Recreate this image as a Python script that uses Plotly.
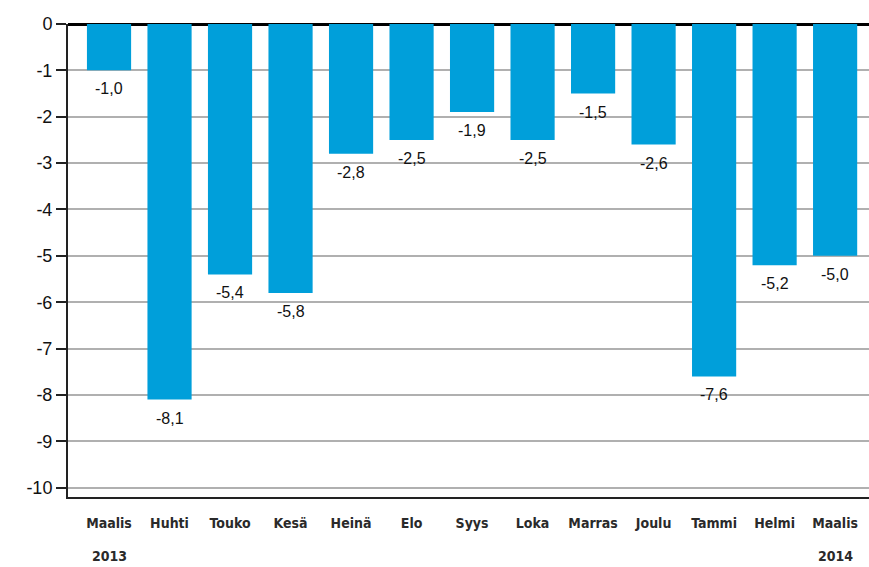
import plotly.graph_objects as go

months = ["Maalis", "Huhti", "Touko", "Kesä", "Heinä", "Elo", "Syys", "Loka",
          "Marras", "Joulu", "Tammi", "Helmi", "Maalis"]
values = [-1.0, -8.1, -5.4, -5.8, -2.8, -2.5, -1.9, -2.5, -1.5, -2.6, -7.6, -5.2, -5.0]
years = ["2013", "2014"]
y_ticks = [0, -1, -2, -3, -4, -5, -6, -7, -8, -9, -10]

xs = list(range(len(months)))
color = "#009fda"
xfont = dict(family="DejaVu Sans Condensed, Tahoma", size=14, color="#2a2a2a", weight="bold")

fig = go.Figure()
fig.add_trace(go.Bar(x=xs, y=values, width=0.73, marker=dict(color=color, line=dict(width=0)),
                     hoverinfo="skip"))

annotations = []
for x, v in zip(xs, values):
    annotations.append(dict(x=x, y=v, xref="x", yref="y", text=f"{v:.1f}".replace(".", ","),
                            showarrow=False, yanchor="top", yshift=-8,
                            font=dict(family="Liberation Sans, Arial", size=16, color="#111")))
annotations.append(dict(x=0, y=0, xref="x", yref="paper", text=years[0], showarrow=False,
                        yanchor="top", yshift=-49, font=xfont))
annotations.append(dict(x=12, y=0, xref="x", yref="paper", text=years[1], showarrow=False,
                        yanchor="top", yshift=-49, font=xfont))

fig.update_layout(
    width=869, height=567,
    margin=dict(l=68, r=0, t=24, b=70),
    plot_bgcolor="white", paper_bgcolor="white",
    showlegend=False,
    annotations=annotations,
)
fig.update_xaxes(range=[-0.678, 12.56], tickmode="array", tickvals=xs, ticktext=months,
                 tickfont=xfont,
                 showgrid=False, zeroline=False, showline=True, linecolor="#222", linewidth=2,
                 ticks="", ticklabelstandoff=12)
fig.update_yaxes(range=[-10.2, 0], tickmode="array", tickvals=y_ticks,
                 ticktext=[str(t) for t in y_ticks],
                 tickfont=dict(family="Liberation Sans, Arial", size=18, color="#111"),
                 showgrid=True, gridcolor="#b0b0b0", gridwidth=1.5,
                 zeroline=True, zerolinecolor="#000", zerolinewidth=3,
                 showline=True, linecolor="#222", linewidth=2,
                 ticks="outside", ticklen=10, tickcolor="#222", tickwidth=1.5)

fig.write_html("out.html", config={"displayModeBar": False},
               post_script="document.body.style.margin='0';document.body.style.overflow='hidden';")
